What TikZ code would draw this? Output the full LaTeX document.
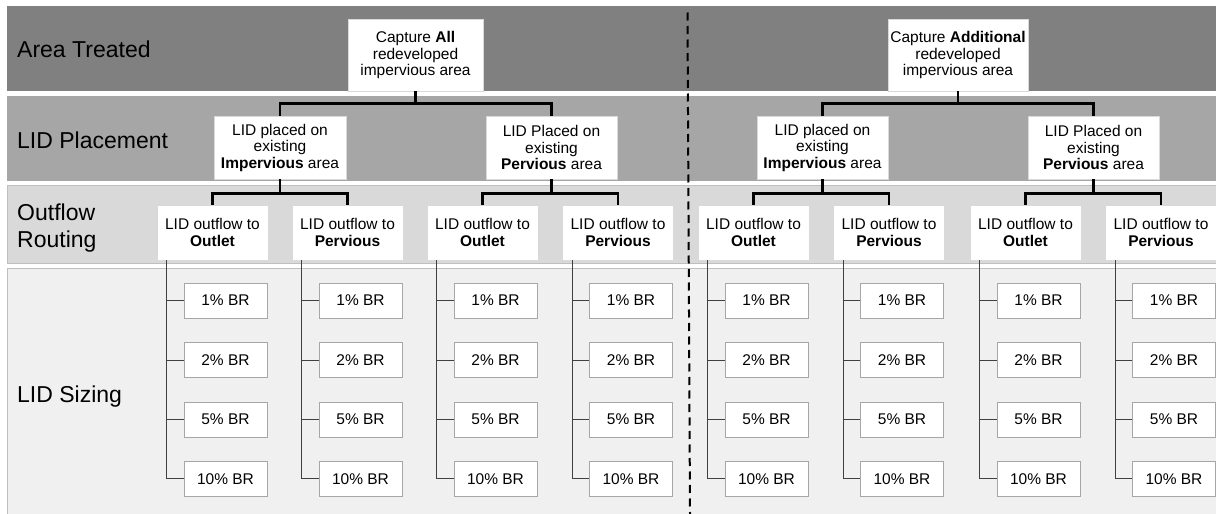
\documentclass[tikz,border=0pt]{standalone}
\usepackage{fontspec}
\setmainfont{Liberation Sans}
\usepackage{tikz}
\usetikzlibrary{positioning}
\usetikzlibrary{arrows.meta}
\usepackage{xcolor}
\colorlet{banddark}{black!50}
\colorlet{bandmid}{black!35}
\colorlet{bandlight}{black!15}
\colorlet{bandpale}{black!6}
\newcommand{\lidboxfont}{\fontsize{15.5}{16.5}\selectfont}
\newcommand{\lidlabelfont}{\fontsize{23}{27}\selectfont}
\tikzstyle{levelbox}=[fill=white,draw=black!15,line width=0.5pt,align=center,inner sep=0,font=\lidboxfont]
\tikzstyle{sizebox}=[fill=white,draw=black!35,line width=0.6pt,inner sep=0,minimum width=83,minimum height=35,font=\lidboxfont]
\tikzstyle{bandlabel}=[anchor=west,align=left,inner sep=0,font=\lidlabelfont]
\tikzstyle{tree}=[line width=2.6pt,black]
\tikzstyle{sizeline}=[line width=0.8pt,black!75]
\tikzstyle{divider}=[line width=2pt,black,dash pattern=on 8pt off 5.5pt]

\begin{document}
\begin{tikzpicture}[x=1pt,y=-1pt]
            \useasboundingbox (0,0) rectangle (1216,514);
            \fill[white] (0,0) rectangle (1216,514);
            % bands
            \fill[banddark] (7,6) rectangle (1216,91);
            \fill[bandmid] (7,96) rectangle (1216,181);
            \filldraw[bandlight, draw=black!25, line width=0.6pt] (7,185) rectangle (1220,263);
            \filldraw[bandpale, draw=black!25, line width=0.6pt] (7,268) rectangle (1220,520);
            \node[bandlabel] (lbl1) at (17,49) {Area Treated};
            \node[bandlabel] (lbl2) at (17,140) {LID Placement};
            \node[bandlabel] (lbl3) at (17,228) {Outflow\\Routing};
            \node[bandlabel] (lbl4) at (17,397) {LID Sizing};

            % divider
            \coordinate (dtop) at (687.5,12.5);
            \coordinate (dbot) at (690,514);
            \draw[divider] (dtop) -- (dbot);

            % area treated
            \node[levelbox, minimum width=135, minimum height=72] (cap1) at (415.5,55) {Capture \textbf{All}\\redeveloped\\impervious area};
            \node[levelbox, minimum width=140, minimum height=72] (cap2) at (958,55) {Capture \textbf{Additional}\\redeveloped\\impervious area};

            % placement
            \node[levelbox, minimum width=132, minimum height=63] (imp1) at (280,147.5) {LID placed on\\existing\\\textbf{Impervious} area};
            \node[levelbox, minimum width=131, minimum height=63] (per1) at (551.5,147.5) {LID Placed on\\existing\\\textbf{Pervious} area};
            \node[levelbox, minimum width=131, minimum height=63] (imp2) at (822.5,147.5) {LID placed on\\existing\\\textbf{Impervious} area};
            \node[levelbox, minimum width=131, minimum height=63] (per2) at (1093.5,147.5) {LID Placed on\\existing\\\textbf{Pervious} area};

            \draw[tree] (cap1.south) -- ++(0,12) coordinate (j1);
            \draw[tree] (imp1.north) |- (j1) -| (per1.north);
            \draw[tree] (cap2.south) -- ++(0,12) coordinate (j2);
            \draw[tree] (imp2.north) |- (j2) -| (per2.north);

            % outflow routing and sizing
            \foreach \k/\x/\t in {1/212.5/Outlet,2/347.5/Pervious,3/482.5/Outlet,4/618/Pervious,5/753.5/Outlet,6/889/Pervious,7/1025.5/Outlet,8/1161/Pervious} {
              \node[levelbox, minimum width=111, minimum height=55] (out\k) at (\x,232.5) {LID outflow to\\\textbf{\t}};
              \foreach \p [count=\i] in {1,2,5,10} {
                \node[sizebox] (s\k-\i) at (\x+13,241.1+59.4*\i) {\p\% BR};
                \draw[sizeline] (out\k.south west) ++(10,0) |- (s\k-\i.west);
              }
            }

            \foreach \m/\a/\b in {imp1/out1/out2,per1/out3/out4,imp2/out5/out6,per2/out7/out8} {
              \draw[tree] (\m.south) -- ++(0,14) coordinate (j\m);
              \draw[tree] (\a.north) |- (j\m) -| (\b.north);
            }
        \end{tikzpicture}
\end{document}
